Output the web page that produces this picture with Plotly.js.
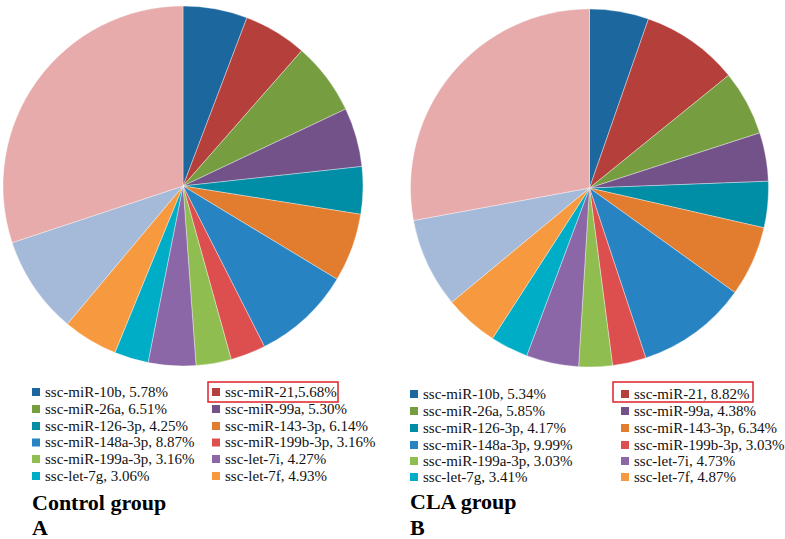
<!DOCTYPE html>
<html><head><meta charset="utf-8">
<script src="https://cdn.plot.ly/plotly-3.0.1.min.js"></script>
<style>html,body{margin:0;padding:0;background:#fff}#c{width:785px;height:539px}</style>
</head><body><div id="c"></div>
<script>
// Categories (legend order, clockwise from 12 o'clock)
const mirnas = ["ssc-miR-10b","ssc-miR-21","ssc-miR-26a","ssc-miR-99a","ssc-miR-126-3p","ssc-miR-143-3p",
  "ssc-miR-148a-3p","ssc-miR-199b-3p","ssc-miR-199a-3p","ssc-let-7i","ssc-let-7g","ssc-let-7f"];
const unlabeled = ["other A","other B"]; // two slices without legend entries
const controlValues = [5.78,5.68,6.51,5.30,4.25,6.14,8.87,3.16,3.16,4.27,3.06,4.93];
const controlUnlabeled = [8.8,30.1];
const claValues = [5.34,8.82,5.85,4.38,4.17,6.34,9.99,3.03,3.03,4.73,3.41,4.87];
const claUnlabeled = [8.1,27.9];
const controlLabelText = ["5.78%","5.68%","6.51%","5.30%","4.25%","6.14%","8.87%","3.16%","3.16%","4.27%","3.06%","4.93%"];
const claLabelText = ["5.34%","8.82%","5.85%","4.38%","4.17%","6.34%","9.99%","3.03%","3.03%","4.73%","3.41%","4.87%"];
const colors = ["#1b679e","#b53f3b","#779d41","#73528a","#008da6","#e27d30","#2883c2","#dc4f4e","#90bd4f","#8b67a8","#00adc7","#f79a3f"];
const unlabeledColors = ["#a5bad9","#e8abab"];
const groupTitles = ["Control group","CLA group"];
const panelLetters = ["A","B"];

const W = 785, H = 539;
const SERIF = "'Liberation Serif', 'Times New Roman', 'DejaVu Serif', serif";
function pie(vals, extra, dom){
  return {type:"pie", values: vals.concat(extra), labels: mirnas.concat(unlabeled),
    marker:{colors: colors.concat(unlabeledColors), line:{color:"rgba(255,255,255,0.6)", width:0.6}},
    sort:false, direction:"clockwise", rotation:0, textinfo:"none", hoverinfo:"label+value",
    showlegend:false, domain: dom};
}
const data = [
  pie(controlValues, controlUnlabeled, {x:[3/W,363/W], y:[(H-366)/H,(H-6)/H]}),
  pie(claValues, claUnlabeled, {x:[410.5/W,768.5/W], y:[(H-367)/H,(H-9)/H]})
];

const annotations = [], shapes = [];
const legendFont = {family:SERIF, size:15, color:"#111"};
const panels = [
  {vals: controlLabelText, sep:[", ",",",", ",", ",", ",", ",", ",", ",", ",", ",", ",", "], col:[[32,43],[212,223]], rows:[392,409,426,442.5,459,476], box:[208,382,338,402], title:[30,502], letter:[30,527]},
  {vals: claLabelText, sep:Array(12).fill(", "), col:[[410,421],[621,632]], rows:[394,411,428,445,461,477], box:[613,382,753,402], title:[408,501], letter:[408,527]}
];
panels.forEach((p,pi)=>{
  mirnas.forEach((m,i)=>{
    const c = i%2, r = Math.floor(i/2);
    const y = p.rows[r];
    shapes.push({type:"rect", xref:"paper", yref:"paper",
      x0:p.col[c][0]/W, x1:(p.col[c][0]+8)/W, y0:(H-y-4)/H, y1:(H-y+4)/H,
      fillcolor:colors[i], line:{width:0}});
    annotations.push({xref:"paper", yref:"paper", x:p.col[c][1]/W, y:(H-y)/H, xanchor:"left", yanchor:"middle",
      text: m + p.sep[i] + p.vals[i], showarrow:false, font:legendFont});
  });
  shapes.push({type:"rect", xref:"paper", yref:"paper",
    x0:p.box[0]/W, x1:p.box[2]/W, y0:(H-p.box[3])/H, y1:(H-p.box[1])/H,
    line:{color:"#e0202a", width:1.5}, fillcolor:"rgba(0,0,0,0)"});
  annotations.push({xref:"paper", yref:"paper", x:p.title[0]/W, y:(H-p.title[1])/H, xanchor:"left", yanchor:"middle",
    text:"<b>"+groupTitles[pi]+"</b>", showarrow:false, font:{family:SERIF, size:22, color:"#000"}});
  annotations.push({xref:"paper", yref:"paper", x:p.letter[0]/W, y:(H-p.letter[1])/H, xanchor:"left", yanchor:"middle",
    text:"<b>"+panelLetters[pi]+"</b>", showarrow:false, font:{family:SERIF, size:22, color:"#000"}});
});

const layout = {width:W, height:H, margin:{l:0,r:0,t:0,b:0}, paper_bgcolor:"#fff", plot_bgcolor:"#fff",
  showlegend:false, annotations, shapes, font:{family:SERIF}};
Plotly.newPlot("c", data, layout, {displayModeBar:false, staticPlot:true});
</script></body></html>
